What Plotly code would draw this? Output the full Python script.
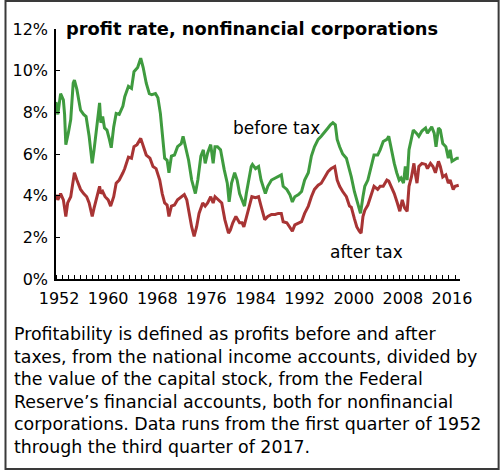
import plotly.graph_objects as go

# ---- data ----
before_years = [1952.0, 1952.3, 1952.75, 1953.2, 1953.4, 1953.6, 1954.0, 1954.4, 1954.8, 1955.0,
                1955.4, 1956.0, 1956.5, 1956.9, 1957.4, 1957.9, 1958.2, 1958.7, 1959.1, 1959.3,
                1959.6, 1959.9, 1960.3, 1960.7, 1961.0, 1961.4, 1961.8, 1962.3, 1962.9, 1963.2,
                1963.8, 1964.3, 1964.7, 1965.3, 1965.8, 1966.2, 1966.7, 1967.2, 1967.6, 1968.2,
                1968.6, 1969.0, 1969.3, 1969.7, 1970.1, 1970.4, 1970.8, 1971.3, 1971.8, 1972.4,
                1972.7, 1973.1, 1973.6, 1974.1, 1974.7, 1975.1, 1975.6, 1976.0, 1976.3, 1976.7,
                1977.2, 1977.6, 1977.9, 1978.3, 1978.8, 1979.4, 1979.9, 1980.2, 1980.6, 1981.1,
                1981.5, 1981.9, 1982.3, 1982.7, 1983.0, 1983.4, 1983.8, 1984.0, 1984.5, 1985.0,
                1985.4, 1986.1, 1986.5, 1987.1, 1987.7, 1988.2, 1988.7, 1989.0, 1989.6, 1990.1,
                1990.5, 1990.9, 1991.5, 1992.0, 1992.5, 1993.1, 1993.6, 1994.1, 1994.7, 1995.2,
                1995.8, 1996.3, 1996.7, 1997.1, 1997.5, 1997.8, 1998.2, 1998.7, 1999.3, 1999.8,
                2000.1, 2000.6, 2001.1, 2001.6, 2002.0, 2002.3, 2002.8, 2003.3, 2003.8, 2004.4,
                2004.8, 2005.3, 2005.9, 2006.2, 2006.6, 2007.1, 2007.5, 2007.9, 2008.2, 2008.6,
                2008.9, 2009.2, 2009.5, 2009.9, 2010.2, 2010.7, 2011.1, 2011.6, 2012.2, 2012.5,
                2012.9, 2013.2, 2013.6, 2013.9, 2014.3, 2014.6, 2015.0, 2015.5, 2015.9, 2016.2,
                2016.5, 2016.8, 2017.3, 2017.6]
before_tax = [8.5, 7.9, 8.9, 8.6, 7.9, 6.45, 7.0, 7.65, 9.4, 9.55,
              9.1, 8.1, 7.9, 7.8, 6.85, 5.55, 6.2, 7.5, 8.45, 7.5,
              7.8, 7.25, 7.15, 6.7, 6.3, 7.3, 7.95, 7.9, 8.3, 8.75,
              9.25, 9.15, 9.95, 10.15, 10.6, 10.15, 9.4, 8.9, 8.85, 8.9,
              8.7, 7.95, 6.85, 5.8, 5.7, 5.1, 5.9, 5.95, 6.35, 6.5,
              6.85, 6.35, 5.7, 4.75, 4.1, 4.75, 5.9, 6.2, 5.55, 6.05,
              6.45, 5.55, 6.35, 6.35, 6.2, 5.25, 4.6, 3.7, 4.6, 5.1,
              4.75, 4.1, 3.75, 3.5, 4.1, 4.75, 5.4, 5.5, 5.3, 5.4,
              4.75, 4.1, 4.45, 4.75, 4.85, 4.9, 5.0, 4.45, 4.3, 4.05,
              3.7, 3.95, 4.05, 4.2, 4.75, 5.1, 5.9, 6.35, 6.7, 6.85,
              7.1, 7.25, 7.4, 7.5, 7.4, 6.7, 6.35, 6.0, 5.8, 5.25,
              4.9, 4.2, 3.65, 3.15, 3.95, 4.45, 4.75, 5.4, 5.95, 5.95,
              6.2, 6.6, 6.7, 6.85, 6.2, 5.55, 5.1, 4.75, 4.85, 4.6,
              5.4, 4.75, 6.2, 6.85, 7.15, 7.0, 6.85, 7.1, 7.25, 7.0,
              7.15, 7.3, 7.0, 6.35, 7.25, 7.15, 6.5, 6.35, 5.8, 6.2,
              5.65, 5.7, 5.8, 5.8]

after_years = [1952.0, 1952.3, 1952.75, 1953.2, 1953.6, 1953.9, 1954.4, 1954.8, 1955.0, 1955.4,
               1956.0, 1956.5, 1957.0, 1957.4, 1957.9, 1958.2, 1958.7, 1959.1, 1959.3, 1959.6,
               1960.0, 1960.5, 1960.9, 1961.4, 1961.8, 1962.3, 1962.9, 1963.2, 1963.8, 1964.3,
               1964.7, 1965.2, 1965.8, 1966.2, 1966.7, 1967.3, 1967.8, 1968.3, 1968.9, 1969.3,
               1969.7, 1970.1, 1970.4, 1970.8, 1971.3, 1971.8, 1972.4, 1972.9, 1973.3, 1973.7,
               1974.1, 1974.5, 1974.9, 1975.3, 1975.9, 1976.3, 1976.7, 1977.2, 1977.6, 1977.9,
               1978.4, 1979.0, 1979.5, 1980.1, 1980.4, 1980.8, 1981.3, 1981.9, 1982.3, 1982.6,
               1983.0, 1983.4, 1983.9, 1984.5, 1985.0, 1985.4, 1986.0, 1986.5, 1987.1, 1987.7,
               1988.2, 1988.7, 1989.0, 1989.6, 1990.1, 1990.5, 1990.9, 1991.5, 1992.0, 1992.5,
               1993.1, 1993.6, 1994.1, 1994.7, 1995.2, 1995.8, 1996.3, 1996.8, 1997.4, 1997.8,
               1998.2, 1998.7, 1999.3, 1999.8, 2000.1, 2000.6, 2001.0, 2001.4, 2001.7, 2002.0,
               2002.3, 2002.8, 2003.3, 2003.8, 2004.4, 2004.8, 2005.3, 2005.9, 2006.2, 2006.6,
               2007.1, 2007.6, 2008.0, 2008.4, 2008.8, 2009.2, 2009.5, 2009.9, 2010.3, 2010.5,
               2010.8, 2011.1, 2011.6, 2012.2, 2012.5, 2013.0, 2013.4, 2013.8, 2014.3, 2014.6,
               2015.0, 2015.5, 2015.9, 2016.2, 2016.7, 2017.0, 2017.6]
after_tax = [4.05, 3.8, 4.1, 3.8, 3.0, 3.65, 3.95, 4.9, 5.1, 4.75,
             4.3, 4.1, 3.95, 3.65, 3.0, 3.4, 3.95, 4.45, 4.1, 4.2,
             3.95, 3.8, 3.5, 3.95, 4.6, 4.75, 5.1, 5.3, 5.85, 5.8,
             6.35, 6.45, 6.75, 6.4, 5.95, 5.8, 5.4, 5.3, 4.75, 4.1,
             3.65, 3.55, 3.0, 3.5, 3.55, 3.8, 3.95, 4.05, 3.8, 3.15,
             2.5, 2.05, 2.5, 3.15, 3.65, 3.5, 3.65, 3.95, 3.65, 3.95,
             3.8, 3.65, 2.85, 2.2, 2.35, 2.7, 3.0, 2.7, 2.7, 2.5,
             2.95, 3.45, 3.95, 3.9, 3.95, 3.5, 2.85, 3.0, 3.1, 3.1,
             3.15, 3.15, 2.75, 2.7, 2.5, 2.3, 2.6, 2.7, 2.75, 3.15,
             3.5, 3.95, 4.3, 4.5, 4.6, 4.9, 5.15, 5.3, 5.4, 4.75,
             4.45, 4.2, 3.95, 3.5, 3.45, 2.9, 2.5, 2.3, 2.2, 3.0,
             3.3, 3.55, 3.95, 4.45, 4.3, 4.45, 4.45, 4.75, 4.7, 4.45,
             4.1, 3.65, 3.25, 3.8, 3.4, 3.25, 4.45, 4.9, 5.55, 5.1,
             4.6, 5.4, 5.55, 5.5, 5.3, 5.55, 5.4, 5.1, 5.65, 5.4,
             4.9, 5.0, 4.6, 4.75, 4.3, 4.45, 4.5]

year_labels = ["1952", "1960", "1968", "1976", "1984", "1992", "2000", "2008", "2016"]
label_years = [1952, 1960, 1968, 1976, 1984, 1992, 2000, 2008, 2016]
y_ticks = [0, 2, 4, 6, 8, 10, 12]

title_text = "profit rate, nonfinancial corporations"
caption = ("Profitability is defined as profits before and after<br>"
           "taxes, from the national income accounts, divided by<br>"
           "the value of the capital stock, from the Federal<br>"
           "Reserve\u2019s financial accounts, both for nonfinancial<br>"
           "corporations. Data runs from the first quarter of 1952<br>"
           "through the third quarter of 2017.")

# ---- layout geometry ----
W, H = 500, 470
L, R, T, B = 52, 40, 29, 191
PW, PH = W - L - R, H - T - B
PX_PER_YEAR = 6.2
FONT = "DejaVu Sans, Verdana, sans-serif"

def px(x):
    return (x - L) / PW

def py(y):
    return 1 - (y - T) / PH

GREEN = "#3f9b3f"
RED = "#a83434"

fig = go.Figure()
fig.add_trace(go.Scatter(x=after_years, y=after_tax, mode="lines",
                         line=dict(color=RED, width=3), hoverinfo="skip"))
fig.add_trace(go.Scatter(x=before_years, y=before_tax, mode="lines",
                         line=dict(color=GREEN, width=3), hoverinfo="skip"))

fig.update_layout(
    width=W, height=H,
    margin=dict(l=L, r=R, t=T, b=B, pad=0),
    paper_bgcolor="white", plot_bgcolor="white",
    showlegend=False,
    font=dict(family=FONT, color="black", size=16),
    xaxis=dict(range=[1952, 1952 + PW / PX_PER_YEAR],
               tickmode="array", tickvals=[v + 0.5 for v in label_years], ticktext=year_labels,
               ticks="", showgrid=False, zeroline=False,
               showline=True, linecolor="black", linewidth=1.5,
               tickfont=dict(size=16), ticklabelstandoff=4,
               minor=dict(tickmode="linear", tick0=1952, dtick=1, ticks="inside",
                          ticklen=4, tickcolor="black", tickwidth=1, showgrid=False)),
    yaxis=dict(range=[0, 12], tickmode="array", tickvals=y_ticks,
               ticktext=[f"{v}%" for v in y_ticks],
               ticks="inside", ticklen=4, tickcolor="black", tickwidth=1,
               showgrid=False, zeroline=False,
               showline=True, linecolor="black", linewidth=1.5,
               tickfont=dict(size=16), ticklabelstandoff=3),
)

fig.add_annotation(x=px(60), y=py(28), xref="paper", yref="paper",
                   text=f"<b>{title_text}</b>", showarrow=False,
                   xanchor="left", yanchor="middle", font=dict(size=17.8))
fig.add_annotation(x=px(275), y=py(128), xref="paper", yref="paper",
                   text="before tax", showarrow=False,
                   xanchor="center", yanchor="middle", font=dict(size=17))
fig.add_annotation(x=px(366), y=py(252), xref="paper", yref="paper",
                   text="after tax", showarrow=False,
                   xanchor="center", yanchor="middle", font=dict(size=17))
fig.add_annotation(x=px(8), y=py(322), xref="paper", yref="paper",
                   text=caption, showarrow=False, align="left",
                   xanchor="left", yanchor="top", font=dict(size=17.4))

fig.add_shape(type="rect", xref="paper", yref="paper",
              x0=px(1), x1=px(W - 1), y0=py(H - 1), y1=py(1),
              line=dict(color="#3a3a3a", width=2), fillcolor="rgba(0,0,0,0)", layer="above")

fig.write_html("out.html", config={"displayModeBar": False},
               post_script="document.body.style.margin='0';")
